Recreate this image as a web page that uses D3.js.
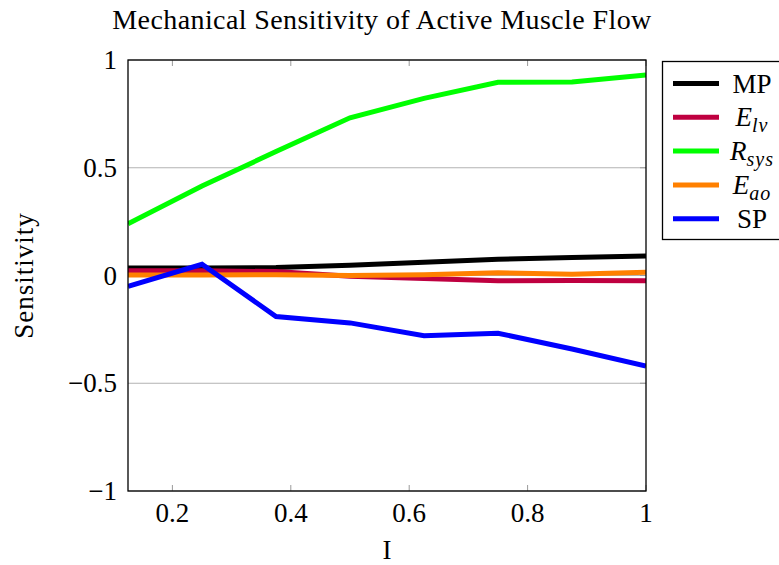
<!DOCTYPE html>
<html>
<head>
<meta charset="utf-8">
<script src="https://cdn.jsdelivr.net/npm/d3@7"></script>
<style>
  html, body { margin: 0; padding: 0; background: #fff; }
  svg { display: block; }
  text { font-family: "Liberation Serif", "DejaVu Serif", serif; fill: #000; }
</style>
</head>
<body>
<svg id="chart" width="779" height="565"></svg>
<script>
// Input intensity levels
const intensity = [0.125, 0.25, 0.375, 0.5, 0.625, 0.75, 0.875, 1];

// Sensitivity of each parameter
const mp   = [0.035, 0.035, 0.037, 0.048, 0.062, 0.075, 0.084, 0.09];
const elv  = [0.022, 0.022, 0.018, -0.003, -0.014, -0.024, -0.023, -0.024];
const rsys = [0.24, 0.415, 0.575, 0.732, 0.822, 0.897, 0.898, 0.93];
const eao  = [0.002, 0.002, 0.004, 0.0, 0.004, 0.013, 0.006, 0.015];
const sp   = [-0.05, 0.052, -0.19, -0.22, -0.279, -0.268, -0.341, -0.42];

const xTicks = [0.2, 0.4, 0.6, 0.8, 1];
const yTicks = [-1, -0.5, 0, 0.5, 1];

const series = [
  { name: "MP",   base: "MP", sub: null,  values: mp,   color: "#000000" },
  { name: "Elv",  base: "E",  sub: "lv",  values: elv,  color: "#bf0040" },
  { name: "Rsys", base: "R",  sub: "sys", values: rsys, color: "#00ff00" },
  { name: "Eao",  base: "E",  sub: "ao",  values: eao,  color: "#ff8000" },
  { name: "SP",   base: "SP", sub: null,  values: sp,   color: "#0000ff" }
];

const svg = d3.select("#chart");
const m = { left: 128, right: 646, top: 60, bottom: 491 };

const x = d3.scaleLinear().domain([0.125, 1]).range([m.left, m.right]);
const y = d3.scaleLinear().domain([-1, 1]).range([m.bottom, m.top]);

const fmt = v => (v < 0 ? "\u2212" : "") + String(Math.abs(v));

// Horizontal grid lines
svg.append("g")
  .selectAll("line")
  .data(yTicks)
  .join("line")
  .attr("x1", m.left).attr("x2", m.right)
  .attr("y1", d => y(d)).attr("y2", d => y(d))
  .attr("stroke", "#b3b3b3").attr("stroke-width", 1);

// Inward ticks on the top and bottom edges
const tickLen = 6;
const xt = svg.append("g").attr("stroke", "#9a9a9a").attr("stroke-width", 1);
xTicks.forEach(t => {
  xt.append("line").attr("x1", x(t)).attr("x2", x(t))
    .attr("y1", m.bottom).attr("y2", m.bottom - tickLen);
  xt.append("line").attr("x1", x(t)).attr("x2", x(t))
    .attr("y1", m.top).attr("y2", m.top + tickLen);
});
yTicks.forEach(t => {
  xt.append("line").attr("x1", m.right).attr("x2", m.right - tickLen)
    .attr("y1", y(t)).attr("y2", y(t));
});

// Series lines, clipped to the plot frame
svg.append("clipPath").attr("id", "plotclip")
  .append("rect")
  .attr("x", m.left).attr("y", m.top - 3)
  .attr("width", m.right - m.left).attr("height", m.bottom - m.top + 6);

const line = d3.line().x((d, i) => x(intensity[i])).y(d => y(d));
svg.append("g").attr("clip-path", "url(#plotclip)")
  .selectAll("path")
  .data(series)
  .join("path")
  .attr("d", d => line(d.values))
  .attr("fill", "none")
  .attr("stroke", d => d.color)
  .attr("stroke-width", 5)
  .attr("stroke-linejoin", "miter");

// Plot frame
svg.append("rect")
  .attr("x", m.left).attr("y", m.top)
  .attr("width", m.right - m.left).attr("height", m.bottom - m.top)
  .attr("fill", "none").attr("stroke", "#000").attr("stroke-width", 1.3);

// Tick labels
svg.append("g").selectAll("text")
  .data(xTicks).join("text")
  .attr("x", d => x(d)).attr("y", 522)
  .attr("text-anchor", "middle")
  .attr("font-size", 27)
  .text(d => fmt(d));

svg.append("g").selectAll("text")
  .data(yTicks).join("text")
  .attr("x", 117).attr("y", d => y(d) + 9)
  .attr("text-anchor", "end")
  .attr("font-size", 27)
  .text(d => fmt(d));

// Axis titles
svg.append("text")
  .attr("x", 387).attr("y", 559)
  .attr("text-anchor", "middle").attr("font-size", 27)
  .text("I");

svg.append("text")
  .attr("transform", `translate(33, ${(m.top + m.bottom) / 2}) rotate(-90)`)
  .attr("text-anchor", "middle").attr("font-size", 27)
  .attr("letter-spacing", 1)
  .text("Sensitivity");

// Chart title
svg.append("text")
  .attr("x", 382).attr("y", 29)
  .attr("text-anchor", "middle").attr("font-size", 28)
  .attr("letter-spacing", 0.4)
  .text("Mechanical Sensitivity of Active Muscle Flow");

// Legend
const lg = svg.append("g");
lg.append("rect")
  .attr("x", 662.5).attr("y", 61.5)
  .attr("width", 130).attr("height", 178)
  .attr("fill", "#fff").attr("stroke", "#000").attr("stroke-width", 1.3);

series.forEach((s, i) => {
  const cy = 83.5 + i * 33.8;
  lg.append("line")
    .attr("x1", 673).attr("x2", 719)
    .attr("y1", cy).attr("y2", cy)
    .attr("stroke", s.color).attr("stroke-width", 5);
  const t = lg.append("text")
    .attr("x", 752).attr("y", cy + 9)
    .attr("text-anchor", "middle")
    .attr("font-size", 27);
  if (s.sub) {
    t.append("tspan").attr("font-style", "italic").text(s.base);
    t.append("tspan").attr("font-style", "italic").attr("font-size", 20)
      .attr("dy", 6).attr("letter-spacing", 1).text(s.sub);
  } else {
    t.text(s.base);
  }
});
</script>
</body>
</html>
